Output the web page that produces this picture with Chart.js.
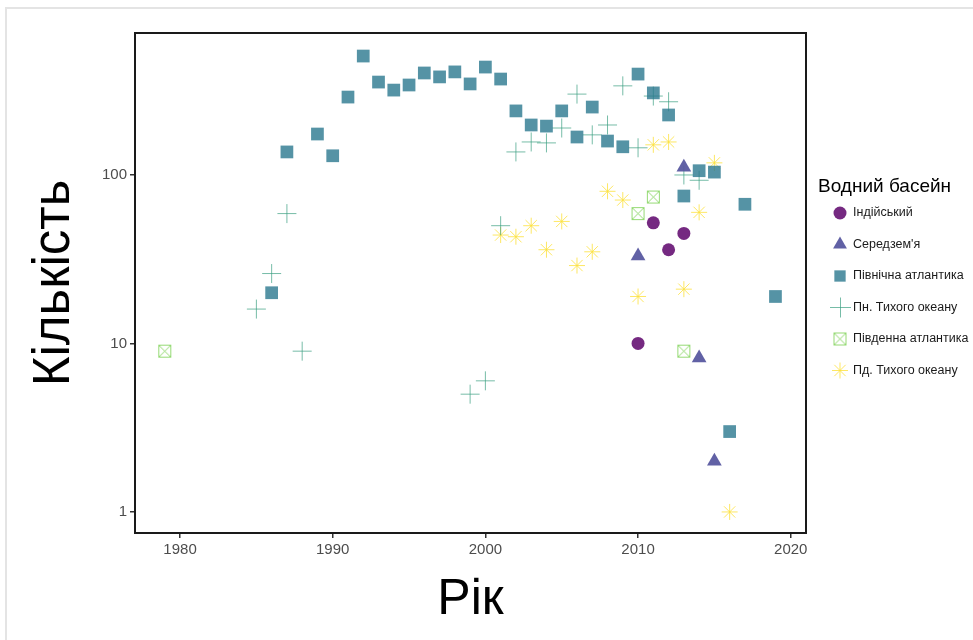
<!DOCTYPE html>
<html>
<head>
<meta charset="utf-8">
<script src="https://cdn.jsdelivr.net/npm/chart.js@4/dist/chart.umd.min.js"></script>
<style>
  html, body { margin: 0; padding: 0; background: #fff; }
  #wrap { position: relative; width: 973px; height: 640px; overflow: hidden; }
  #frame { position: absolute; left: 5px; top: 7px; width: 1000px; height: 700px; border: 2px solid #e4e4e4; box-sizing: border-box; }
  canvas { position: absolute; left: 0; top: 0; }
</style>
</head>
<body>
<div id="wrap">
  <div id="frame"></div>
  <canvas id="c" width="973" height="640"></canvas>
</div>
<script>
// ---- data ----
const seriesNames = ["Індійський", "Середзем'я", "Північна атлантика", "Пн. Тихого океану", "Південна атлантика", "Пд. Тихого океану"];

const indianYears  = [2010, 2011, 2012, 2013];
const indianCounts = [10, 52, 36, 45];

const medYears  = [2010, 2013, 2014, 2015];
const medCounts = [33, 111, 8.2, 2];

const nAtlYears  = [1986, 1987, 1989, 1990, 1991, 1992, 1993, 1994, 1995, 1996, 1997, 1998, 1999, 2000, 2001, 2002, 2003, 2004, 2005, 2006, 2007, 2008, 2009, 2010, 2011, 2012, 2013, 2014, 2015, 2016, 2017, 2019];
const nAtlCounts = [20, 137, 175, 130, 290, 508, 356, 319, 342, 403, 382, 409, 347, 437, 371, 240, 198, 195, 240, 168, 253, 159, 147, 397, 307, 227, 75, 106, 104, 3, 67, 19];

const nPacYears  = [1985, 1986, 1987, 1988, 1999, 2000, 2001, 2002, 2003, 2004, 2005, 2006, 2007, 2008, 2009, 2010, 2011, 2012, 2013, 2014];
const nPacCounts = [16, 26, 59, 9, 5, 6, 50, 137, 157, 155, 190, 302, 173, 198, 338, 145, 294, 272, 100, 93];

const sAtlYears  = [1979, 2010, 2011, 2013];
const sAtlCounts = [9, 59, 74, 9];

const sPacYears  = [2001, 2002, 2003, 2004, 2005, 2006, 2007, 2008, 2009, 2010, 2011, 2012, 2013, 2014, 2015, 2016];
const sPacCounts = [44, 43, 50, 36, 53, 29, 35, 80, 71, 19, 151, 157, 21, 60, 118, 1];

const xTicks = [1980, 1990, 2000, 2010, 2020];
const yTicks = [1, 10, 100];

const xTitle = "Рік";
const yTitle = "Кількість";
const legendTitle = "Водний басейн";

// ---- helpers ----
function pts(xs, ys) { return xs.map((x, i) => ({ x: x, y: ys[i] })); }

// square with an X inside (ggplot shape 7)
const boxX = document.createElement('canvas');
boxX.width = 15; boxX.height = 15;
(function () {
  const g = boxX.getContext('2d');
  g.strokeStyle = 'rgba(122,209,81,0.8)';
  g.lineWidth = 1;
  g.strokeRect(1.5, 1.5, 12, 12);
  g.beginPath();
  g.moveTo(2, 2); g.lineTo(13, 13);
  g.moveTo(13, 2); g.lineTo(2, 13);
  g.stroke();
})();

const FONT = "'Liberation Sans', Arial, Helvetica, sans-serif";

const datasets = [
  { label: seriesNames[0], data: pts(indianYears, indianCounts), pointStyle: 'circle', pointRadius: 6.5,
    backgroundColor: 'rgba(110,30,122,0.95)', borderColor: 'rgba(110,30,122,0)', borderWidth: 0 },
  { label: seriesNames[1], data: pts(medYears, medCounts), pointStyle: 'triangle', pointRadius: 8.5,
    backgroundColor: 'rgba(88,88,160,0.95)', borderColor: 'rgba(88,88,160,0)', borderWidth: 0 },
  { label: seriesNames[2], data: pts(nAtlYears, nAtlCounts), pointStyle: 'rect', pointRadius: 9,
    backgroundColor: 'rgba(42,120,142,0.8)', borderColor: 'rgba(42,120,142,0)', borderWidth: 0 },
  { label: seriesNames[3], data: pts(nPacYears, nPacCounts), pointStyle: 'cross', pointRadius: 9.5,
    backgroundColor: 'rgba(60,160,130,0.7)', borderColor: 'rgba(60,160,130,0.7)', borderWidth: 1 },
  { label: seriesNames[4], data: pts(sAtlYears, sAtlCounts), pointStyle: boxX, pointRadius: 7,
    backgroundColor: 'rgba(122,209,81,0.8)', borderColor: 'rgba(122,209,81,0.8)', borderWidth: 1 },
  { label: seriesNames[5], data: pts(sPacYears, sPacCounts), pointStyle: 'star', pointRadius: 8,
    backgroundColor: 'rgba(253,225,60,0.8)', borderColor: 'rgba(253,225,60,0.8)', borderWidth: 1 }
];

const framePlugin = {
  id: 'frame',
  afterDatasetsDraw(chart) {
    const a = chart.chartArea, ctx = chart.ctx;
    ctx.save();
    ctx.strokeStyle = '#1a1a1a';
    ctx.lineWidth = 2;
    ctx.strokeRect(a.left, a.top, a.right - a.left, a.bottom - a.top);
    ctx.restore();
  }
};

const legendPlugin = {
  id: 'sideLegend',
  afterDraw(chart) {
    const ctx = chart.ctx;
    ctx.save();
    ctx.fillStyle = '#000';
    ctx.textBaseline = 'middle';
    ctx.textAlign = 'left';
    ctx.font = '19px ' + FONT;
    ctx.fillText(legendTitle, 818, 187);
    chart.data.datasets.forEach((ds, i) => {
      const y = 213 + i * 31.5;
      const r = Math.min(ds.pointRadius, 8);
      if (ds.pointStyle === 'cross') {
        ctx.strokeStyle = ds.borderColor; ctx.lineWidth = 1;
        ctx.beginPath();
        ctx.moveTo(830, y); ctx.lineTo(851, y);
        ctx.moveTo(840.5, y - 10); ctx.lineTo(840.5, y + 10);
        ctx.stroke();
      } else {
        ctx.fillStyle = ds.backgroundColor;
        ctx.strokeStyle = ds.borderColor;
        ctx.lineWidth = ds.borderWidth;
        Chart.helpers.drawPoint(ctx, { pointStyle: ds.pointStyle, radius: r, borderWidth: ds.borderWidth, rotation: 0 }, 840, y);
      }
      ctx.fillStyle = '#1a1a1a';
      ctx.font = '12.5px ' + FONT;
      ctx.fillText(ds.label, 853, y);
    });
    ctx.restore();
  }
};

new Chart(document.getElementById('c'), {
  type: 'scatter',
  data: { datasets: datasets },
  options: {
    responsive: false,
    animation: false,
    layout: { padding: { left: 0, top: 33, right: 167, bottom: 0 } },
    plugins: { legend: { display: false }, tooltip: { enabled: false } },
    scales: {
      x: {
        type: 'linear', min: 1977.05, max: 2021,
        afterBuildTicks: s => { s.ticks = xTicks.map(v => ({ value: v })); },
        afterFit: s => { s.height = 107; },
        ticks: { color: '#4d4d4d', font: { family: FONT, size: 15 }, padding: 3, callback: v => String(v) },
        grid: { display: true, drawOnChartArea: false, drawTicks: true, tickLength: 5, color: '#333', lineWidth: 1.5 },
        border: { display: false },
        title: { display: true, text: xTitle, color: '#000', font: { family: FONT, size: 50 }, padding: { top: 0, bottom: 10 } }
      },
      y: {
        type: 'logarithmic', min: 0.75, max: 696,
        afterBuildTicks: s => { s.ticks = yTicks.map(v => ({ value: v })); },
        afterFit: s => { s.width = 135; },
        ticks: { color: '#4d4d4d', font: { family: FONT, size: 15 }, padding: 3, callback: v => String(v) },
        grid: { display: true, drawOnChartArea: false, drawTicks: true, tickLength: 5, color: '#333', lineWidth: 1.5 },
        border: { display: false },
        title: { display: true, text: yTitle, color: '#000', font: { family: FONT, size: 51 }, padding: { top: 24, bottom: 0 } }
      }
    }
  },
  plugins: [framePlugin, legendPlugin]
});
</script>
</body>
</html>
